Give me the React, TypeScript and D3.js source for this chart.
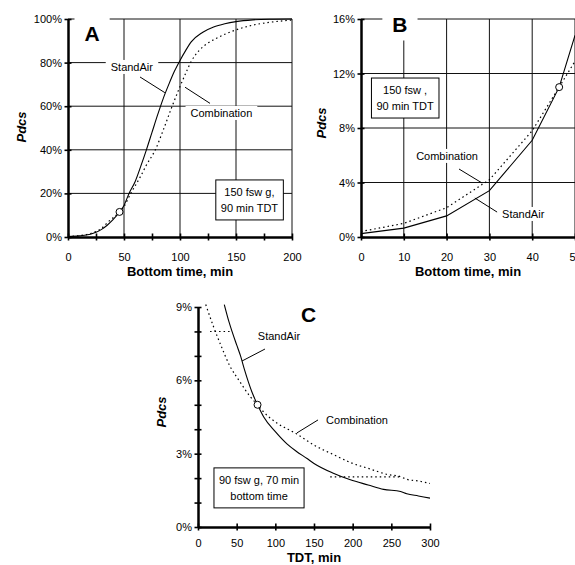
import * as d3 from "d3";
import { useEffect, useRef } from "react";

// ---------------- DATA ----------------

// A: Pdcs vs bottom time (150 fsw, 90 min TDT)
const aStandAir: [number, number][] = [
  [0, 0.2], [10, 0.5], [20, 1.3], [25, 2.2], [30, 3.5], [35, 5.4], [40, 7.8], [46, 11.5],
  [50, 14.5], [54.5, 20], [60, 25.5], [65, 32.5], [70, 40], [75, 48], [80, 56], [85, 63.5],
  [90, 70], [95, 76], [100, 81], [105, 85.5], [110, 89.5], [120, 93.8], [130, 96.3],
  [140, 97.8], [150, 98.8], [165, 99.6], [180, 99.9], [200, 100],
];
const aCombination: [number, number][] = [
  [0, 0.2], [10, 0.6], [20, 1.6], [30, 4], [36, 7], [46, 11.5], [50, 14], [56, 20],
  [60, 23.5], [65, 28], [70, 33], [78, 40], [85, 49], [93, 60], [100, 69], [105, 75],
  [110, 80.5], [117, 85.5], [125, 89], [132, 91], [140, 93], [150, 95], [165, 97.2],
  [176, 98.2], [200, 99.5],
];
const aMarker: [number, number] = [46, 11.5];
const aXTicks = [0, 25, 50, 75, 100, 125, 150, 175, 200];
const aYTicks = [0, 20, 40, 60, 80, 100];

// B: Pdcs vs bottom time (150 fsw, 90 min TDT), low range
const bStandAir: [number, number][] = [
  [0, 0.25], [10, 0.65], [20, 1.55], [30, 3.4], [40, 7.1], [46.3, 11], [50, 14.8],
];
const bCombination: [number, number][] = [
  [0, 0.4], [10, 1.0], [20, 2.15], [30, 4.2], [40, 7.8], [46.3, 11], [50, 12.9],
];
const bMarker: [number, number] = [46.3, 11];
const bXTicks = [0, 10, 20, 30, 40, 50];
const bYTicks = [0, 4, 8, 12, 16];

// C: Pdcs vs TDT (90 fsw, 70 min bottom time)
const cStandAir: [number, number][] = [
  [34, 9.1], [40, 8.4], [44, 8], [50, 7.45], [55, 7], [60, 6.45], [65, 5.95], [70, 5.5],
  [77, 5.0], [85, 4.5], [100, 3.9], [115, 3.4], [127, 3.1], [141, 2.8], [150, 2.6],
  [175, 2.2], [197, 1.93], [220, 1.72], [240, 1.54], [262, 1.45], [270, 1.36],
  [285, 1.27], [300, 1.18],
];
const cCombination: [number, number][] = [
  [10, 9.1], [20, 8.2], [30, 7.4], [41, 6.6], [54, 5.95], [67, 5.35], [77, 5.0],
  [85, 4.7], [100, 4.3], [128, 3.8], [150, 3.35], [176, 2.95], [200, 2.6], [220, 2.4],
  [245, 2.15], [262, 2.06], [270, 1.95], [285, 1.88], [300, 1.78],
];
const cMarker: [number, number] = [77, 5.0];
const cDotted = [
  { y: 8, x0: 15.6, x1: 44 },
  { y: 2.05, x0: 171, x1: 262 },
];
const cXTicks = [0, 50, 100, 150, 200, 250, 300];
const cYTicks = [0, 1, 2, 3, 4, 5, 6, 7, 8, 9];

// ---------------- LAYOUT ----------------

const FONT = "'Liberation Sans', Arial, Helvetica, sans-serif";

const panels = [
  {
    x: d3.scaleLinear().domain([0, 200]).range([68, 292]),
    y: d3.scaleLinear().domain([0, 100]).range([237, 19]),
    xTicks: aXTicks, xLabelEvery: 50,
    yTicks: aYTicks, yLabelEvery: 20,
    gridX: [50, 100, 150, 200], gridY: [20, 40, 60, 80, 100],
    standAir: aStandAir, combination: aCombination, marker: aMarker,
    curve: d3.curveMonotoneX,
    tickDy: 23.5, xTitle: "Bottom time, min", xTitleDy: 39,
    yTitle: [21, 127],
    letter: { t: "A", x: 21.5, y: 93.5 },
    labels: [
      { t: "StandAir", x: 57, y: 78, lx0: 64.3, ly0: 73.4, lx1: 86.5, ly1: 66.2 },
      { t: "Combination", x: 137, y: 56.9, lx0: 104.5, ly0: 68.7, lx1: 126.8, ly1: 61.3 },
    ],
    box: { lines: ["150 fsw g,", "90 min TDT"], x: 162, y: 17 },
    extra: [] as { y: number; x0: number; x1: number }[],
  },
  {
    x: d3.scaleLinear().domain([0, 50]).range([361, 575]),
    y: d3.scaleLinear().domain([0, 16]).range([237, 19]),
    xTicks: bXTicks, xLabelEvery: 10,
    yTicks: bYTicks, yLabelEvery: 4,
    gridX: [10, 20, 30, 40, 50], gridY: [4, 8, 12, 16],
    standAir: bStandAir, combination: bCombination, marker: bMarker,
    curve: d3.curveLinear,
    tickDy: 23.5, xTitle: "Bottom time, min", xTitleDy: 39,
    yTitle: [321, 123],
    letter: { t: "B", x: 9.1, y: 15.56 },
    labels: [
      { t: "Combination", x: 20.1, y: 5.95, lx0: 22.9, ly0: 4.99, lx1: 28.3, ly1: 3.96 },
      { t: "StandAir", x: 37.9, y: 1.69, lx0: 26.6, ly0: 2.86, lx1: 31.8, ly1: 1.83 },
    ],
    box: { lines: ["150 fsw ,", "90 min TDT"], x: 10.3, y: 10.2 },
    extra: [] as { y: number; x0: number; x1: number }[],
  },
  {
    x: d3.scaleLinear().domain([0, 300]).range([198, 430]),
    y: d3.scaleLinear().domain([0, 9]).range([527, 307]),
    xTicks: cXTicks, xLabelEvery: 50,
    yTicks: cYTicks, yLabelEvery: 3,
    gridX: [] as number[], gridY: [] as number[],
    standAir: cStandAir, combination: cCombination, marker: cMarker,
    curve: d3.curveMonotoneX,
    tickDy: 20, xTitle: "TDT, min", xTitleDy: 35,
    yTitle: [161, 412],
    letter: { t: "C", x: 142.9, y: 8.71 },
    labels: [
      { t: "StandAir", x: 104.7, y: 7.81, lx0: 86.6, ly0: 7.28, lx1: 56.9, ly1: 6.79 },
      { t: "Combination", x: 205.6, y: 4.38, lx0: 155.2, ly0: 4.38, lx1: 128, ly1: 3.85 },
    ],
    box: { lines: ["90 fsw g, 70 min", "bottom time"], x: 78.9, y: 1.6 },
    extra: cDotted,
  },
];

type Panel = (typeof panels)[number];

// text with a white patch behind it, so the grid breaks around it
function bgText(g: any, x: number, y: number, t: string, size: number, weight = "normal", padX = 5, padY = 1) {
  const rect = g.append("rect").attr("fill", "white");
  const txt = g.append("text")
    .attr("x", x).attr("y", y)
    .attr("text-anchor", "middle")
    .attr("dominant-baseline", "central")
    .attr("font-size", size)
    .attr("font-weight", weight)
    .text(t);
  const b = txt.node().getBBox();
  rect.attr("x", b.x - padX).attr("y", b.y - padY)
    .attr("width", b.width + 2 * padX).attr("height", b.height + 2 * padY);
}

function drawPanel(svg: any, p: Panel) {
  const g = svg.append("g");
  const [y0, y1] = p.y.range();
  const [x0, x1] = p.x.range();

  //   ---------- GRID ----------
  g.selectAll(".gx").data(p.gridX).join("line")
    .attr("x1", (d: number) => p.x(d)).attr("x2", (d: number) => p.x(d))
    .attr("y1", y0).attr("y2", y1)
    .attr("stroke", "#111").attr("stroke-width", 1);
  g.selectAll(".gy").data(p.gridY).join("line")
    .attr("y1", (d: number) => p.y(d)).attr("y2", (d: number) => p.y(d))
    .attr("x1", x0).attr("x2", x1)
    .attr("stroke", "#111").attr("stroke-width", 1);

  //   ---------- LABELS (white behind) ----------
  bgText(g, p.x(p.letter.x), p.y(p.letter.y), p.letter.t, 21, "bold", 10, 4);
  p.labels.forEach((l) => bgText(g, p.x(l.x), p.y(l.y), l.t, 11));

  // info box
  const bx = g.append("g");
  const brect = bx.append("rect").attr("fill", "white").attr("stroke", "#000").attr("stroke-width", 1);
  const btext = bx.append("text")
    .attr("text-anchor", "middle")
    .attr("font-size", 11);
  p.box.lines.forEach((s, i) => {
    btext.append("tspan")
      .attr("x", p.x(p.box.x))
      .attr("y", p.y(p.box.y) + (i - 0.5) * 16)
      .attr("dominant-baseline", "central")
      .text(s);
  });
  const bb = btext.node().getBBox();
  brect.attr("x", bb.x - 5).attr("y", bb.y - 6).attr("width", bb.width + 10).attr("height", bb.height + 12);

  //   ---------- CURVES ----------
  const line = d3.line<[number, number]>()
    .x((d) => p.x(d[0]))
    .y((d) => p.y(d[1]))
    .curve(p.curve);

  g.selectAll(".extra").data(p.extra).join("line")
    .attr("x1", (d: any) => p.x(d.x0)).attr("x2", (d: any) => p.x(d.x1))
    .attr("y1", (d: any) => p.y(d.y)).attr("y2", (d: any) => p.y(d.y))
    .attr("stroke", "#000").attr("stroke-width", 1.1).attr("stroke-dasharray", "1.5,3");

  g.append("path").attr("d", line(p.combination))
    .attr("fill", "none").attr("stroke", "#000")
    .attr("stroke-width", 1.2).attr("stroke-dasharray", "1.5,3");
  g.append("path").attr("d", line(p.standAir))
    .attr("fill", "none").attr("stroke", "#000").attr("stroke-width", 1.1);

  g.append("circle")
    .attr("cx", p.x(p.marker[0])).attr("cy", p.y(p.marker[1])).attr("r", 3.5)
    .attr("fill", "white").attr("stroke", "#000").attr("stroke-width", 1);

  // leader lines
  g.selectAll(".lead").data(p.labels).join("line")
    .attr("x1", (d: any) => p.x(d.lx0)).attr("y1", (d: any) => p.y(d.ly0))
    .attr("x2", (d: any) => p.x(d.lx1)).attr("y2", (d: any) => p.y(d.ly1))
    .attr("stroke", "#000").attr("stroke-width", 1);

  //   ---------- AXES ----------
  const ax = g.append("g")
    .attr("transform", `translate(0,${y0})`)
    .call(
      d3.axisBottom(p.x)
        .tickValues(p.xTicks)
        .tickSizeOuter(0)
        .tickSizeInner(3.5)
        .tickFormat((d: any) => (+d % p.xLabelEvery === 0 ? String(d) : ""))
    )
    .attr("font-family", null).attr("font-size", 11);
  ax.select(".domain").attr("stroke-width", 2.5);
  ax.selectAll(".tick line").attr("y1", -3.5).attr("stroke-width", 1.6);
  ax.selectAll(".tick text").attr("y", p.tickDy).attr("dy", null).attr("fill", "#000");

  const ay = g.append("g")
    .attr("transform", `translate(${x0},0)`)
    .call(
      d3.axisLeft(p.y)
        .tickValues(p.yTicks)
        .tickSizeOuter(0)
        .tickSizeInner(3.5)
        .tickFormat((d: any) => (+d % p.yLabelEvery === 0 ? `${d}%` : ""))
    )
    .attr("font-family", null).attr("font-size", 11);
  ay.select(".domain").attr("stroke-width", 2.5);
  ay.selectAll(".tick line").attr("x1", 3.5).attr("stroke-width", 1.6);
  ay.selectAll(".tick text").attr("x", -6).attr("fill", "#000");

  // axis titles
  g.append("text").text(p.xTitle)
    .attr("x", (x0 + x1) / 2)
    .attr("y", y0 + p.xTitleDy)
    .attr("text-anchor", "middle")
    .attr("font-size", 13).attr("font-weight", "bold");

  g.append("text").text("Pdcs")
    .attr("transform", `translate(${p.yTitle[0]},${p.yTitle[1]}) rotate(-90)`)
    .attr("text-anchor", "middle")
    .attr("dominant-baseline", "central")
    .attr("font-size", 13).attr("font-weight", "bold").attr("font-style", "italic");
}

export default function App() {
  const ref = useRef<SVGSVGElement>(null);

  useEffect(() => {
    const svg = d3.select(ref.current);
    svg.selectAll("*").remove();
    panels.forEach((p) => drawPanel(svg, p));
  }, []);

  return (
    <svg
      ref={ref}
      width={575}
      height={565}
      style={{ position: "absolute", left: 0, top: 0, background: "white", fontFamily: FONT }}
    />
  );
}
